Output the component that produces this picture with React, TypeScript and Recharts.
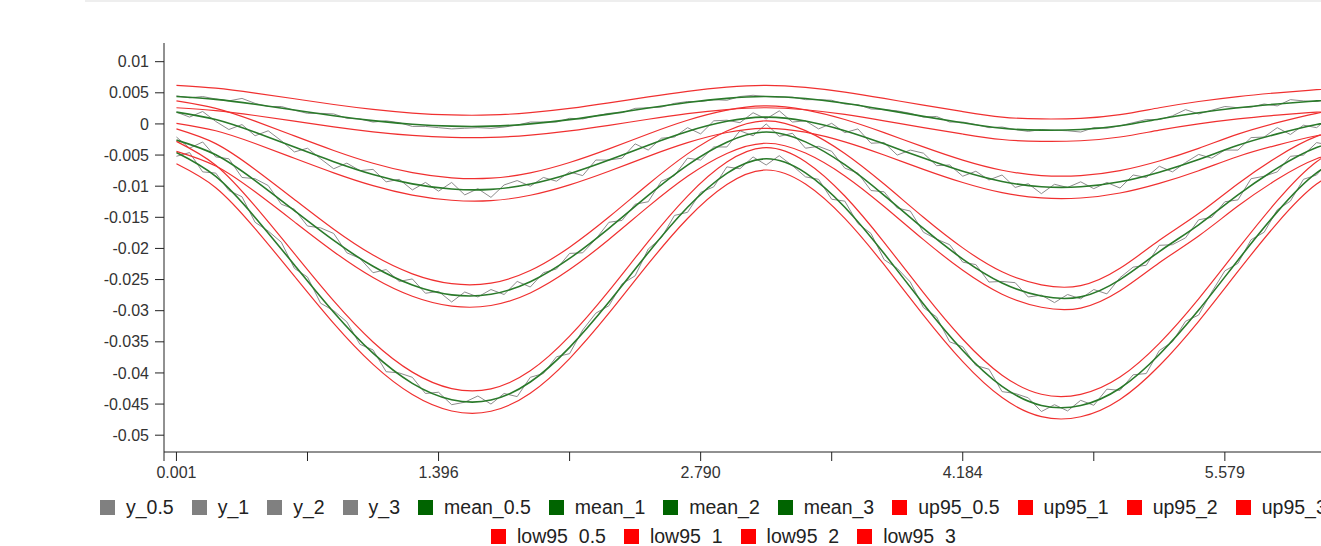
import React from 'react';
import { LineChart, Line, XAxis, YAxis } from 'recharts';

// x runs over 91 samples (0.001 ... 6.276); a labelled tick every 20 samples
const xTickIndex = [-0.95, 0, 10, 20, 30, 40, 50, 60, 70, 80, 90];
const xTickLabels = ['', '0.001', '', '1.396', '', '2.790', '', '4.184', '', '5.579', ''];
const yTicks = [0.01, 0.005, 0, -0.005, -0.01, -0.015, -0.02, -0.025, -0.03, -0.035, -0.04, -0.045, -0.05];

// noisy observations, one value per sample
const y05 = [
  0.0045, 0.0042, 0.0044, 0.004, 0.0037, 0.0041, 0.0033, 0.0028, 0.0028, 0.0022,
  0.0017, 0.0017, 0.0016, 0.0009, 0.0008, 0.0003, 0.0005, 0.0002, -0.0004, -0.0004,
  -0.0006, -0.0008, -0.0007, -0.0006, -0.0007, -0.0005, -0.0002, 0.0003, 0.0003, 0.0003,
  0.0009, 0.0008, 0.0013, 0.0017, 0.0018, 0.0025, 0.0026, 0.0027, 0.0033, 0.0036,
  0.0036, 0.0039, 0.0038, 0.0044, 0.0046, 0.0044, 0.0043, 0.0043, 0.0039, 0.0039,
  0.0038, 0.0032, 0.0031, 0.0024, 0.0023, 0.0021, 0.0017, 0.0011, 0.0012, 0.0003,
  0.0003, -0.0001, -0.0006, -0.0005, -0.0009, -0.0012, -0.0009, -0.001, -0.0011, -0.0013,
  -0.0006, -0.0007, -0.0003, 0.0002, 0.0007, 0.0007, 0.0013, 0.0023, 0.0016, 0.0022,
  0.0028, 0.0026, 0.0027, 0.0032, 0.0029, 0.0039, 0.0037, 0.0036, 0.0039, 0.0043,
  0.0041,
];
const y1 = [
  0.0019, 0.0011, 0.002, 0.0004, -0.0009, -0.0001, -0.0019, -0.0011, -0.0027, -0.0045,
  -0.0039, -0.0056, -0.0072, -0.0063, -0.0075, -0.0073, -0.0093, -0.0089, -0.0106, -0.0094,
  -0.0108, -0.0094, -0.0114, -0.0104, -0.0118, -0.0098, -0.0091, -0.01, -0.0086, -0.0092,
  -0.0077, -0.0083, -0.0058, -0.0058, -0.0055, -0.0032, -0.0042, -0.0023, -0.0021, -0.0006,
  -0.0016, 0.0005, 0.0006, 0.0002, 0.0018, 0.0008, 0.0021, 0.0003, 0.0005, -0.0008,
  0.0001, -0.0014, -0.0008, -0.0031, -0.003, -0.005, -0.0042, -0.0047, -0.0067, -0.0066,
  -0.0084, -0.0076, -0.009, -0.0082, -0.0102, -0.0096, -0.0112, -0.0097, -0.0102, -0.0093,
  -0.0104, -0.0094, -0.0103, -0.0082, -0.0086, -0.0068, -0.0077, -0.0062, -0.0049, -0.0055,
  -0.0042, -0.0042, -0.0022, -0.0021, -0.0006, -0.0017, -0.0002, -0.0006, 0.0011, 0.0006,
  0.0013,
];
const y2 = [
  -0.0021, -0.0039, -0.0029, -0.0053, -0.0056, -0.0086, -0.0088, -0.0099, -0.0129, -0.0137,
  -0.0164, -0.0167, -0.0176, -0.0207, -0.0216, -0.0239, -0.0234, -0.0253, -0.0249, -0.0272,
  -0.0269, -0.0286, -0.027, -0.0278, -0.0266, -0.0274, -0.0253, -0.0262, -0.0239, -0.0233,
  -0.0208, -0.0207, -0.0185, -0.0158, -0.0155, -0.0129, -0.0125, -0.0092, -0.0083, -0.0055,
  -0.0058, -0.0037, -0.0037, -0.0011, -0.0019, 0, -0.002, -0.0015, -0.0039, -0.0036,
  -0.0044, -0.0071, -0.0079, -0.0107, -0.0109, -0.0135, -0.014, -0.0174, -0.0185, -0.0194,
  -0.0222, -0.0226, -0.0254, -0.0253, -0.0255, -0.0278, -0.0275, -0.0287, -0.0274, -0.0281,
  -0.0266, -0.0273, -0.0247, -0.023, -0.0227, -0.0195, -0.0194, -0.0183, -0.0154, -0.015,
  -0.0125, -0.0122, -0.0088, -0.0084, -0.0077, -0.0052, -0.005, -0.003, -0.0034, -0.0022,
  -0.0025,
];
const y3 = [
  -0.0052, -0.0046, -0.0077, -0.0079, -0.0107, -0.0117, -0.0158, -0.0172, -0.019, -0.0232,
  -0.0246, -0.0288, -0.03, -0.0318, -0.0354, -0.0363, -0.0398, -0.04, -0.0407, -0.0433,
  -0.0431, -0.0451, -0.0447, -0.0437, -0.045, -0.0433, -0.0438, -0.0407, -0.0401, -0.0374,
  -0.0369, -0.0331, -0.0304, -0.0292, -0.0257, -0.0244, -0.0201, -0.0183, -0.0147, -0.0142,
  -0.011, -0.0101, -0.0069, -0.0072, -0.0053, -0.0066, -0.0051, -0.0067, -0.0085, -0.0089,
  -0.0121, -0.0124, -0.016, -0.0176, -0.0218, -0.0232, -0.0254, -0.0295, -0.031, -0.035,
  -0.0358, -0.0388, -0.0394, -0.043, -0.0433, -0.044, -0.0462, -0.0451, -0.0461, -0.0444,
  -0.0452, -0.0426, -0.0428, -0.0403, -0.0401, -0.0364, -0.035, -0.0317, -0.0307, -0.027,
  -0.0236, -0.0224, -0.0186, -0.0174, -0.0138, -0.0124, -0.0089, -0.0082, -0.0058, -0.0058,
  -0.0043,
];

// smooth fits, read every third sample
const smoothIndex = [0, 3, 6, 9, 12, 15, 18, 21, 24, 27, 30, 33, 36, 39, 42, 45, 48, 51, 54, 57, 60, 63, 66, 69, 72, 75, 78, 81, 84, 87, 90];

const mean05 = [0.0044, 0.00394, 0.00315, 0.00224, 0.00132, 0.00053, -0.00005, -0.00036, -0.00036, 0.00001, 0.00069, 0.00158, 0.00255, 0.00344, 0.00411, 0.0044, 0.00408, 0.00332, 0.0023, 0.00121, 0.00018, -0.0007, -0.001, -0.0009, -0.0003, 0.0008, 0.0018, 0.0026, 0.0032, 0.0037, 0.0042];
const mean1 = [0.0019, 0.0007, -0.00135, -0.00372, -0.00606, -0.00812, -0.00963, -0.01046, -0.01052, -0.00966, -0.00799, -0.0058, -0.00341, -0.00121, 0.00042, 0.0011, 0.00047, -0.00109, -0.0032, -0.00549, -0.00761, -0.00924, -0.01009, -0.0101, -0.0093, -0.00775, -0.00572, -0.00343, -0.0016, -0.0001, 0.001];
const mean2 = [-0.0026, -0.00496, -0.00911, -0.01393, -0.01872, -0.02287, -0.02588, -0.02746, -0.02737, -0.02535, -0.0216, -0.01676, -0.01149, -0.00661, -0.00294, -0.0013, -0.00288, -0.00655, -0.01146, -0.01679, -0.02171, -0.02555, -0.02765, -0.02778, -0.025, -0.0205, -0.0162, -0.0114, -0.0071, -0.0038, -0.0022];
const mean3 = [-0.0046, -0.00844, -0.01502, -0.02265, -0.03024, -0.03683, -0.04167, -0.04431, -0.04436, -0.04146, -0.03589, -0.02861, -0.02069, -0.01339, -0.00793, -0.0056, -0.00786, -0.01338, -0.02082, -0.02891, -0.03639, -0.04216, -0.04522, -0.04524, -0.04246, -0.03704, -0.0299, -0.02189, -0.01413, -0.00786, -0.0046];

const up05 = [0.0062, 0.00574, 0.00495, 0.00404, 0.00312, 0.00233, 0.00175, 0.00144, 0.00144, 0.00181, 0.00249, 0.00338, 0.00435, 0.00524, 0.00591, 0.0062, 0.00588, 0.00512, 0.0041, 0.00301, 0.00198, 0.0011, 0.0008, 0.0009, 0.0015, 0.0026, 0.0036, 0.0044, 0.005, 0.0055, 0.006];
const up1 = [0.0037, 0.0025, 0.00045, -0.00192, -0.00426, -0.00632, -0.00783, -0.00866, -0.00872, -0.00786, -0.00619, -0.004, -0.00161, 0.00059, 0.00222, 0.0029, 0.00227, 0.00071, -0.0014, -0.00369, -0.00581, -0.00744, -0.00829, -0.0083, -0.0075, -0.00595, -0.00392, -0.00163, 0.0002, 0.0017, 0.0028];
const up2 = [-0.0008, -0.00316, -0.00731, -0.01213, -0.01692, -0.02107, -0.02408, -0.02566, -0.02557, -0.02355, -0.0198, -0.01496, -0.00969, -0.00481, -0.00114, 0.0005, -0.00108, -0.00475, -0.00966, -0.01499, -0.01991, -0.02375, -0.02585, -0.02598, -0.0232, -0.0187, -0.0144, -0.0096, -0.0053, -0.002, -0.0004];
const up3 = [-0.0028, -0.00664, -0.01322, -0.02085, -0.02844, -0.03503, -0.03987, -0.04251, -0.04256, -0.03966, -0.03409, -0.02681, -0.01889, -0.01159, -0.00613, -0.0038, -0.00606, -0.01158, -0.01902, -0.02711, -0.03459, -0.04036, -0.04342, -0.04344, -0.04066, -0.03524, -0.0281, -0.02009, -0.01233, -0.00606, -0.0028];

const low05 = [0.0026, 0.00214, 0.00135, 0.00044, -0.00048, -0.00127, -0.00185, -0.00216, -0.00216, -0.00179, -0.00111, -0.00022, 0.00075, 0.00164, 0.00231, 0.0026, 0.00228, 0.00152, 0.0005, -0.00059, -0.00162, -0.0025, -0.0028, -0.0027, -0.0021, -0.001, 0, 0.0008, 0.0014, 0.0019, 0.0024];
const low1 = [0.0001, -0.0011, -0.00315, -0.00552, -0.00786, -0.00992, -0.01143, -0.01226, -0.01232, -0.01146, -0.00979, -0.0076, -0.00521, -0.00301, -0.00138, -0.0007, -0.00133, -0.00289, -0.005, -0.00729, -0.00941, -0.01104, -0.01189, -0.0119, -0.0111, -0.00955, -0.00752, -0.00523, -0.0034, -0.0019, -0.0008];
const low2 = [-0.0044, -0.00676, -0.01091, -0.01573, -0.02052, -0.02467, -0.02768, -0.02926, -0.02917, -0.02715, -0.0234, -0.01856, -0.01329, -0.00841, -0.00474, -0.0031, -0.00468, -0.00835, -0.01326, -0.01859, -0.02351, -0.02735, -0.02945, -0.02958, -0.0268, -0.0223, -0.018, -0.0132, -0.0089, -0.0056, -0.004];
const low3 = [-0.0064, -0.01024, -0.01682, -0.02445, -0.03204, -0.03863, -0.04347, -0.04611, -0.04616, -0.04326, -0.03769, -0.03041, -0.02249, -0.01519, -0.00973, -0.0074, -0.00966, -0.01518, -0.02262, -0.03071, -0.03819, -0.04396, -0.04702, -0.04704, -0.04426, -0.03884, -0.0317, -0.02369, -0.01593, -0.00966, -0.0064];

const GRAY = '#8c8c8c';
const GREEN = '#2a7a2a';
const RED = '#f03030';
const FONT = "'Liberation Sans', Arial, sans-serif";

type Pt = { i: number; v: number };
const fine = (vals: number[]): Pt[] => vals.map((v, k) => ({ i: k, v }));
const coarse = (vals: number[]): Pt[] => vals.map((v, k) => ({ i: smoothIndex[k], v }));

const series = [
  { name: 'y_0.5', data: fine(y05), color: GRAY, key: '#808080', w: 1, curve: 'linear' },
  { name: 'y_1', data: fine(y1), color: GRAY, key: '#808080', w: 1, curve: 'linear' },
  { name: 'y_2', data: fine(y2), color: GRAY, key: '#808080', w: 1, curve: 'linear' },
  { name: 'y_3', data: fine(y3), color: GRAY, key: '#808080', w: 1, curve: 'linear' },
  { name: 'mean_0.5', data: coarse(mean05), color: GREEN, key: '#006400', w: 1.6, curve: 'natural' },
  { name: 'mean_1', data: coarse(mean1), color: GREEN, key: '#006400', w: 1.6, curve: 'natural' },
  { name: 'mean_2', data: coarse(mean2), color: GREEN, key: '#006400', w: 1.6, curve: 'natural' },
  { name: 'mean_3', data: coarse(mean3), color: GREEN, key: '#006400', w: 1.6, curve: 'natural' },
  { name: 'up95_0.5', data: coarse(up05), color: RED, key: '#ff0000', w: 1.2, curve: 'natural' },
  { name: 'up95_1', data: coarse(up1), color: RED, key: '#ff0000', w: 1.2, curve: 'natural' },
  { name: 'up95_2', data: coarse(up2), color: RED, key: '#ff0000', w: 1.2, curve: 'natural' },
  { name: 'up95_3', data: coarse(up3), color: RED, key: '#ff0000', w: 1.2, curve: 'natural' },
  { name: 'low95_0.5', data: coarse(low05), color: RED, key: '#ff0000', w: 1.2, curve: 'natural' },
  { name: 'low95_1', data: coarse(low1), color: RED, key: '#ff0000', w: 1.2, curve: 'natural' },
  { name: 'low95_2', data: coarse(low2), color: RED, key: '#ff0000', w: 1.2, curve: 'natural' },
  { name: 'low95_3', data: coarse(low3), color: RED, key: '#ff0000', w: 1.2, curve: 'natural' },
];

const LegendRow = ({ items, top, left }: { items: typeof series; top: number; left: number }) => (
  <div
    style={{
      position: 'absolute', left, top,
      display: 'flex', gap: 18,
      whiteSpace: 'nowrap', fontFamily: FONT, fontSize: 19.5, color: '#222', lineHeight: '23px',
    }}
  >
    {items.map((s) => (
      <span key={s.name} style={{ display: 'inline-flex', alignItems: 'center' }}>
        <span style={{ width: 15, height: 15, background: s.key, marginRight: 11 }} />
        <span>{s.name}</span>
      </span>
    ))}
  </div>
);

export default function App() {
  const xLabel = (v: number) => {
    const k = xTickIndex.indexOf(v);
    return k >= 0 ? xTickLabels[k] : '';
  };
  return (
    <div style={{ position: 'fixed', left: 0, top: 0, width: 1321, height: 546, overflow: 'hidden', background: '#fff' }}>
      <div style={{ position: 'absolute', top: 0, left: 85, right: 0, height: 2, background: '#eeeeee' }} />
      <LineChart width={1440} height={500} margin={{ top: 43, right: 71, bottom: 8, left: 0 }}>
        <XAxis
          type="number"
          dataKey="i"
          domain={[-0.95, 91]}
          ticks={xTickIndex}
          tickFormatter={xLabel}
          interval={0}
          allowDataOverflow
          height={40}
          tickSize={9}
          tickMargin={6}
          stroke="#222"
          tick={{ fontSize: 16, fill: '#333', fontFamily: FONT }}
        />
        <YAxis
          type="number"
          domain={[-0.0527, 0.013]}
          ticks={yTicks}
          interval={0}
          allowDataOverflow
          width={164}
          tickSize={9}
          tickMargin={6}
          stroke="#222"
          tick={{ fontSize: 16, fill: '#333', fontFamily: FONT }}
        />
        {series.map((s) => (
          <Line
            key={s.name}
            data={s.data}
            dataKey="v"
            name={s.name}
            type={s.curve as any}
            stroke={s.color}
            strokeWidth={s.w}
            dot={false}
            activeDot={false}
            isAnimationActive={false}
          />
        ))}
      </LineChart>
      <LegendRow items={series.slice(0, 12)} top={496} left={100} />
      <LegendRow items={series.slice(12)} top={525} left={491} />
    </div>
  );
}
